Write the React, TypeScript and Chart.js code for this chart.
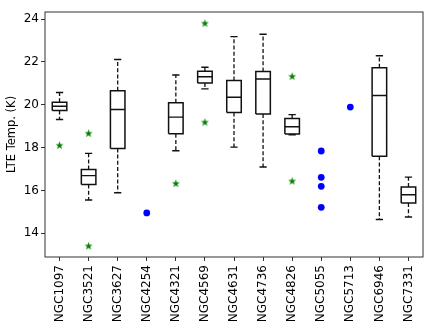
import React, { useEffect, useRef } from 'react';
import { Chart, registerables } from 'chart.js';

Chart.register(...registerables);

// ---- Data ----
const categories = ['NGC1097', 'NGC3521', 'NGC3627', 'NGC4254', 'NGC4321', 'NGC4569', 'NGC4631', 'NGC4736', 'NGC4826', 'NGC5055', 'NGC5713', 'NGC6946', 'NGC7331'];
const whiskerLow = [19.31, 15.55, 15.89, null, 17.85, 20.74, 18.02, 17.09, 18.6, null, null, 14.64, 14.76];
const q1 = [19.73, 16.27, 17.96, null, 18.64, 21.02, 19.64, 19.57, 18.63, null, null, 17.59, 15.41];
const median = [19.93, 16.69, 19.78, null, 19.42, 21.31, 20.35, 21.2, 18.97, null, null, 20.43, 15.8];
const q3 = [20.12, 16.97, 20.65, null, 20.09, 21.56, 21.13, 21.55, 19.36, null, null, 21.73, 16.16];
const whiskerHigh = [20.57, 17.73, 22.11, null, 21.39, 21.75, 23.18, 23.29, 19.54, null, null, 22.29, 16.62];

// green star outliers
const outlierNames = ['NGC1097', 'NGC3521', 'NGC3521', 'NGC4321', 'NGC4569', 'NGC4569', 'NGC4826', 'NGC4826'];
const outlierValues = [18.11, 18.67, 13.41, 16.33, 23.81, 19.19, 21.33, 16.44];

// blue single measurements
const singleNames = ['NGC4254', 'NGC5055', 'NGC5055', 'NGC5055', 'NGC5055', 'NGC5713'];
const singleValues = [14.95, 17.84, 16.61, 16.19, 15.21, 19.89];

const yTicks = [14, 16, 18, 20, 22, 24];
const yMin = 12.89;
const yMax = 24.33;

const BOX_HALF = 0.25;
const CAP_HALF = 0.125;
const FONT = 'DejaVu Sans';

function pos(name: string) {
  return categories.indexOf(name) + 1;
}

function makeStar(): HTMLCanvasElement {
  const c = document.createElement('canvas');
  const s = 9;
  c.width = s;
  c.height = s;
  const ctx = c.getContext('2d')!;
  const cx = s / 2, cy = s / 2 + 0.3;
  const R = 4.2, r = 1.7;
  ctx.beginPath();
  for (let i = 0; i < 10; i++) {
    const rad = i % 2 === 0 ? R : r;
    const a = -Math.PI / 2 + (i * Math.PI) / 5;
    const px = cx + rad * Math.cos(a);
    const py = cy + rad * Math.sin(a);
    if (i === 0) ctx.moveTo(px, py); else ctx.lineTo(px, py);
  }
  ctx.closePath();
  ctx.fillStyle = '#008000';
  ctx.fill();
  return c;
}

const framePlugin = {
  id: 'frame',
  beforeDatasetsDraw(chart: any) {
    const { ctx, chartArea } = chart;
    ctx.save();
    ctx.strokeStyle = '#333';
    ctx.lineWidth = 1;
    ctx.strokeRect(chartArea.left, chartArea.top, chartArea.right - chartArea.left, chartArea.bottom - chartArea.top);
    ctx.restore();
  },
};

export default function App() {
  const ref = useRef<HTMLCanvasElement>(null);

  useEffect(() => {
    document.body.style.margin = '0';
    const whiskers: any[] = [];
    const caps: any[] = [];
    const boxes: any[] = [];
    const medians: any[] = [];
    categories.forEach((_, i) => {
      const x = i + 1;
      if (q1[i] == null) return;
      whiskers.push({ x, y: q3[i] }, { x, y: whiskerHigh[i] }, { x, y: null });
      whiskers.push({ x, y: q1[i] }, { x, y: whiskerLow[i] }, { x, y: null });
      caps.push({ x: x - CAP_HALF, y: whiskerHigh[i] }, { x: x + CAP_HALF, y: whiskerHigh[i] }, { x, y: null });
      caps.push({ x: x - CAP_HALF, y: whiskerLow[i] }, { x: x + CAP_HALF, y: whiskerLow[i] }, { x, y: null });
      boxes.push(
        { x: x - BOX_HALF, y: q1[i] },
        { x: x + BOX_HALF, y: q1[i] },
        { x: x + BOX_HALF, y: q3[i] },
        { x: x - BOX_HALF, y: q3[i] },
        { x: x - BOX_HALF, y: q1[i] },
        { x, y: null }
      );
      medians.push({ x: x - BOX_HALF, y: median[i] }, { x: x + BOX_HALF, y: median[i] }, { x, y: null });
    });
    const stars = outlierNames.map((n, i) => ({ x: pos(n), y: outlierValues[i] }));
    const singles = singleNames.map((n, i) => ({ x: pos(n), y: singleValues[i] }));
    const starImg = makeStar();

    const lineDs = (data: any[], width: number, dash: number[] = []) => ({
      data,
      showLine: true,
      spanGaps: false,
      borderColor: '#111',
      borderWidth: width,
      borderDash: dash,
      pointRadius: 0,
      pointHoverRadius: 0,
      fill: false,
    });

    const chart = new Chart(ref.current!, {
      type: 'scatter',
      data: {
        datasets: [
          lineDs(whiskers, 1.3, [4, 2.2]),
          lineDs(caps, 1.4),
          lineDs(boxes, 1.5),
          lineDs(medians, 1.4),
          {
            data: stars,
            pointStyle: starImg,
            pointRadius: 4,
            showLine: false,
          } as any,
          {
            data: singles,
            pointStyle: 'circle',
            pointRadius: 3.4,
            backgroundColor: '#0000ff',
            borderColor: '#0000ff',
            borderWidth: 0,
            showLine: false,
          },
        ],
      },
      options: {
        responsive: false,
        animation: false,
        layout: { padding: { top: 12, right: 13, bottom: 0, left: 0 } },
        plugins: { legend: { display: false }, tooltip: { enabled: false } },
        scales: {
          x: {
            type: 'linear',
            min: 0.5,
            max: 13.5,
            afterBuildTicks: (s: any) => {
              s.ticks = categories.map((_, i) => ({ value: i + 1 }));
            },
            afterFit: (s: any) => {
              s.height = 71;
            },
            grid: { display: true, drawOnChartArea: false, drawTicks: true, tickLength: 4, color: '#333' },
            border: { display: false },
            ticks: {
              autoSkip: false,
              minRotation: 90,
              maxRotation: 90,
              padding: 4,
              color: '#000',
              font: { family: FONT, size: 12 },
              callback: (v: any) => categories[Math.round(v) - 1],
            },
          },
          y: {
            type: 'linear',
            min: yMin,
            max: yMax,
            afterBuildTicks: (s: any) => {
              s.ticks = yTicks.map((v) => ({ value: v }));
            },
            afterFit: (s: any) => {
              s.width = 45;
            },
            grid: { display: true, drawOnChartArea: false, drawTicks: true, tickLength: 4, color: '#333' },
            border: { display: false },
            ticks: {
              padding: 2,
              color: '#000',
              font: { family: FONT, size: 12 },
              callback: (v: any) => String(v),
            },
            title: {
              display: true,
              text: 'LTE Temp. (K)',
              color: '#000',
              font: { family: FONT, size: 11.5 },
              padding: { top: 5, bottom: 0 },
            },
          },
        },
      },
      plugins: [framePlugin],
    });
    return () => chart.destroy();
  }, []);

  return (
    <div style={{ width: 436, height: 328 }}>
      <canvas ref={ref} width={436} height={328} />
    </div>
  );
}
